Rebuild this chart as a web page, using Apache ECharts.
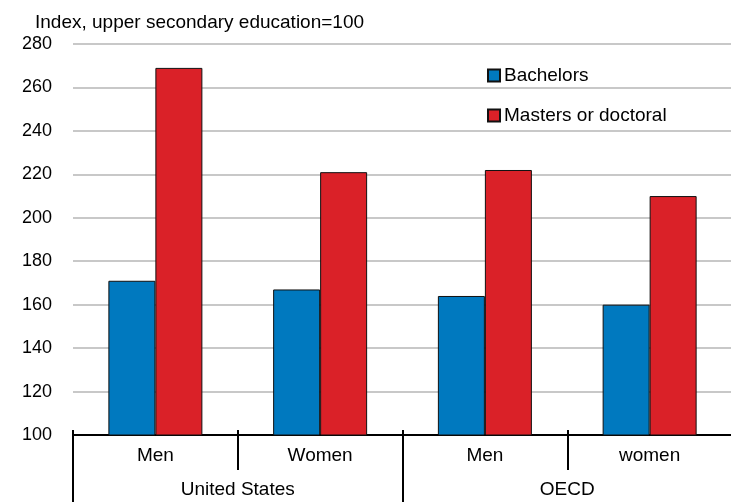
<!DOCTYPE html>
<html>
<head>
<meta charset="utf-8">
<script src="https://cdn.jsdelivr.net/npm/echarts@6/dist/echarts.min.js"></script>
<style>
  html, body { margin: 0; padding: 0; background: #fff; overflow: hidden; }
  /* canvas is a little wider than the window so the closing separator falls off the edge */
  #chart { width: 741px; height: 502px; }
</style>
</head>
<body>
<div id="chart"></div>
<script>
// Earnings by education level, index (upper secondary education = 100)
const subCategories = ['Men', 'Women', 'Men', 'women'];
const groups = ['United States', 'OECD'];
const bachelors = [171, 167, 164, 160];
const mastersDoctoral = [269, 221, 222, 210];
const seriesNames = ['Bachelors', 'Masters or doctoral'];
const yTicks = { min: 100, max: 280, step: 20 };

const FONT = '"Liberation Sans", Arial, sans-serif';
const chart = echarts.init(document.getElementById('chart'), null, { renderer: 'canvas' });

const tickLine = { color: '#000', width: 2 };

chart.setOption({
  animation: false,
  backgroundColor: '#ffffff',
  textStyle: { fontFamily: FONT, color: '#000' },
  title: {
    text: 'Index, upper secondary education=100',
    left: 30,
    top: 8,
    textStyle: { fontFamily: FONT, fontSize: 19, fontWeight: 'normal', color: '#000' }
  },
  legend: {
    orient: 'vertical',
    left: 482,
    top: 61,
    itemWidth: 12,
    itemHeight: 12,
    itemGap: 21,
    icon: 'rect',
    textStyle: { fontFamily: FONT, fontSize: 19, color: '#000', padding: [0, 0, 0, -1] },
    data: seriesNames
  },
  grid: { left: 73, right: 9, top: 44, bottom: 67, containLabel: false },
  xAxis: [
    {
      // sub-category row: Men / Women
      type: 'category',
      data: subCategories,
      position: 'bottom',
      axisLine: { show: true, lineStyle: { color: '#000', width: 2 } },
      axisTick: { show: true, length: 35, interval: 0, lineStyle: tickLine },
      axisLabel: { interval: 0, margin: 11, fontFamily: FONT, fontSize: 19, color: '#000' }
    },
    {
      // group row: United States / OECD
      type: 'category',
      data: groups,
      position: 'bottom',
      axisLine: { show: false },
      axisTick: { show: true, length: 70, interval: 0, lineStyle: tickLine },
      axisLabel: { interval: 0, margin: 45, fontFamily: FONT, fontSize: 19, color: '#000' }
    },
    {
      // short separator stubs poking above the baseline
      type: 'category',
      data: subCategories,
      position: 'bottom',
      axisLine: { show: false },
      axisTick: { show: true, inside: true, length: 5, interval: 0, lineStyle: tickLine },
      axisLabel: { show: false }
    }
  ],
  yAxis: {
    type: 'value',
    min: yTicks.min,
    max: yTicks.max,
    interval: yTicks.step,
    axisLine: { show: false },
    axisTick: { show: false },
    axisLabel: { margin: 21, fontFamily: FONT, fontSize: 18, color: '#000' },
    splitLine: { show: true, lineStyle: { color: '#c8c8c8', width: 2 } }
  },
  series: [
    {
      name: seriesNames[0],
      type: 'bar',
      xAxisIndex: 0,
      data: bachelors,
      barWidth: 47,
      barGap: '0%',
      itemStyle: { color: '#0079BF', borderColor: '#111', borderWidth: 1 }
    },
    {
      name: seriesNames[1],
      type: 'bar',
      xAxisIndex: 0,
      data: mastersDoctoral,
      barWidth: 47,
      barGap: '0%',
      itemStyle: { color: '#DA2128', borderColor: '#111', borderWidth: 1 }
    }
  ]
});
</script>
</body>
</html>
